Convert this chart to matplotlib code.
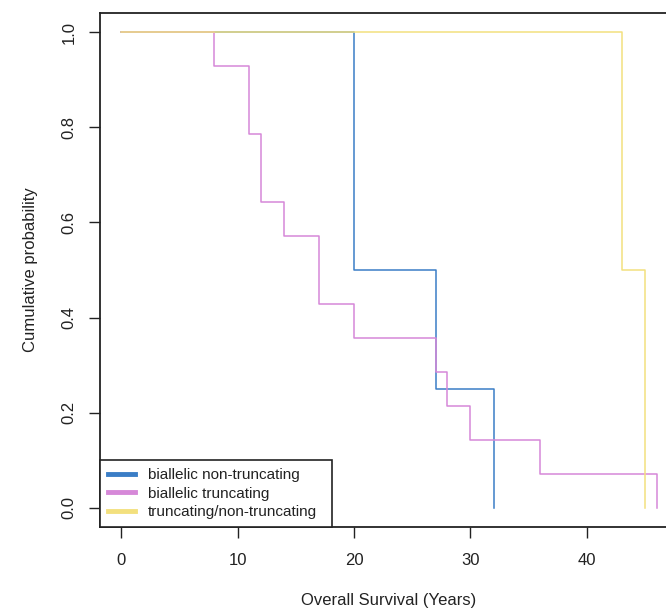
import matplotlib
matplotlib.use("Agg")
import matplotlib.pyplot as plt

plt.rcParams["font.family"] = ["Liberation Sans", "DejaVu Sans"]

# Kaplan-Meier steps (time in years, survival probability)
blue_times = [0, 20, 27, 32]
blue_surv = [1.0, 0.5, 0.25, 0.0]

pink_times = [0, 8, 11, 12, 14, 17, 20, 27, 28, 30, 36, 46]
pink_surv = [1.0, 0.929, 0.786, 0.643, 0.571, 0.429, 0.357, 0.286, 0.214, 0.143, 0.071, 0.0]

yellow_times = [0, 43, 45]
yellow_surv = [1.0, 0.5, 0.0]

labels = ["biallelic non-truncating", "biallelic truncating", "truncating/non-truncating"]
colors = ["#3a7dc6", "#d688d8", "#f3e07e"]

x_ticks = [0, 10, 20, 30, 40]
y_ticks = [0.0, 0.2, 0.4, 0.6, 0.8, 1.0]

W, H = 666, 614
fig = plt.figure(figsize=(W / 100, H / 100), dpi=100)
# plot region runs past the right edge of the picture, like the cropped original
ax = fig.add_axes([100 / W, 1 - 527 / H, 578 / W, 514 / H])

series = [(blue_times, blue_surv), (pink_times, pink_surv), (yellow_times, yellow_surv)]
for (t, s), col in zip(series, colors):
    ax.step(t, s, where="post", color=col, lw=1.1)

ax.set_xlim(-1.84, 47.84)
ax.set_ylim(-0.04, 1.04)
ax.set_xticks(x_ticks)
ax.set_yticks(y_ticks)
ax.set_yticklabels([f"{v:.1f}" for v in y_ticks], rotation=90, va="center")
ax.tick_params(axis="both", direction="out", length=8, width=1.0, labelsize=12,
               color="#222222", labelcolor="#222222")
ax.tick_params(axis="x", pad=11)
ax.tick_params(axis="y", pad=9)
for sp in ax.spines.values():
    sp.set_linewidth(1.3)
    sp.set_color("#222222")

ax.set_xlabel("Overall Survival (Years)", fontsize=12, color="#222222", labelpad=18)
ax.set_ylabel("Cumulative probability", fontsize=12, color="#222222", labelpad=17)

# legend box stretched to the width of the R legend (bottom-left corner)
handles = [plt.Line2D([], [], color=c, lw=3.5) for c in colors]
leg = ax.legend(handles, labels, loc="lower left", bbox_to_anchor=(0, 0, 232 / 578, 67 / 514),
                mode="expand", borderaxespad=0, fancybox=False, framealpha=1,
                edgecolor="#222222", fontsize=11, handlelength=1.8, handletextpad=0.85,
                labelspacing=0.31, borderpad=0.5)
leg.get_frame().set_linewidth(1.2)
for txt in leg.get_texts():
    txt.set_color("#222222")

fig.savefig("out.png", dpi=100)
